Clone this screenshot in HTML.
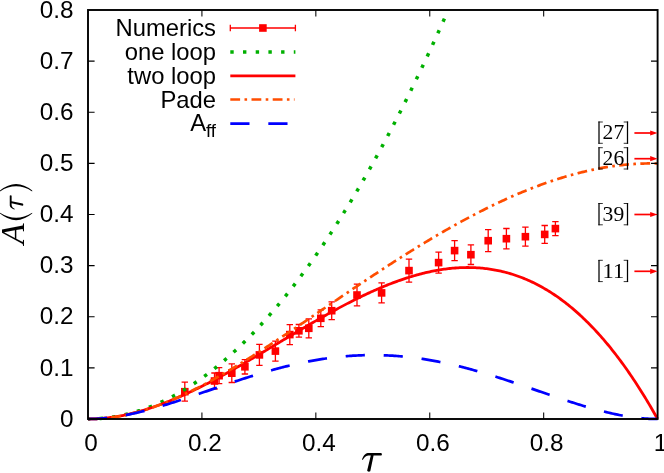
<!DOCTYPE html>
<html><head><meta charset="utf-8"><title>plot</title>
<style>
html,body{margin:0;padding:0;background:#fff;}
svg{display:block;will-change:transform;}
text{font-family:"Liberation Sans",sans-serif;fill:#000;}
.ser{font-family:"Liberation Serif",serif;}
</style></head><body>
<svg width="664" height="473" viewBox="0 0 664 473">
<rect width="664" height="473" fill="#fff"/>

<path d="M184.8 382.2V401.2M181.6 382.2h6.4M181.6 401.2h6.4" stroke="#f00" stroke-width="1.3" fill="none"/>
<rect x="181.0" y="387.9" width="7.6" height="7.6" fill="#f00"/>
<path d="M214.5 373.0V389.0M211.3 373.0h6.4M211.3 389.0h6.4" stroke="#f00" stroke-width="1.3" fill="none"/>
<rect x="210.7" y="377.2" width="7.6" height="7.6" fill="#f00"/>
<path d="M219.1 367.7V383.7M215.9 367.7h6.4M215.9 383.7h6.4" stroke="#f00" stroke-width="1.3" fill="none"/>
<rect x="215.3" y="371.9" width="7.6" height="7.6" fill="#f00"/>
<path d="M231.8 363.9V382.5M228.6 363.9h6.4M228.6 382.5h6.4" stroke="#f00" stroke-width="1.3" fill="none"/>
<rect x="228.0" y="369.4" width="7.6" height="7.6" fill="#f00"/>
<path d="M244.9 359.6V374.0M241.7 359.6h6.4M241.7 374.0h6.4" stroke="#f00" stroke-width="1.3" fill="none"/>
<rect x="241.1" y="363.0" width="7.6" height="7.6" fill="#f00"/>
<path d="M259.4 344.4V365.4M256.2 344.4h6.4M256.2 365.4h6.4" stroke="#f00" stroke-width="1.3" fill="none"/>
<rect x="255.6" y="351.1" width="7.6" height="7.6" fill="#f00"/>
<path d="M275.4 341.1V361.1M272.2 341.1h6.4M272.2 361.1h6.4" stroke="#f00" stroke-width="1.3" fill="none"/>
<rect x="271.6" y="347.3" width="7.6" height="7.6" fill="#f00"/>
<path d="M289.8 324.6V344.6M286.6 324.6h6.4M286.6 344.6h6.4" stroke="#f00" stroke-width="1.3" fill="none"/>
<rect x="286.0" y="330.8" width="7.6" height="7.6" fill="#f00"/>
<path d="M298.9 324.5V337.1M295.7 324.5h6.4M295.7 337.1h6.4" stroke="#f00" stroke-width="1.3" fill="none"/>
<rect x="295.1" y="327.0" width="7.6" height="7.6" fill="#f00"/>
<path d="M308.8 318.8V337.8M305.6 318.8h6.4M305.6 337.8h6.4" stroke="#f00" stroke-width="1.3" fill="none"/>
<rect x="305.0" y="324.5" width="7.6" height="7.6" fill="#f00"/>
<path d="M320.8 309.9V326.7M317.6 309.9h6.4M317.6 326.7h6.4" stroke="#f00" stroke-width="1.3" fill="none"/>
<rect x="317.0" y="314.5" width="7.6" height="7.6" fill="#f00"/>
<path d="M331.7 301.8V319.6M328.5 301.8h6.4M328.5 319.6h6.4" stroke="#f00" stroke-width="1.3" fill="none"/>
<rect x="327.9" y="306.9" width="7.6" height="7.6" fill="#f00"/>
<path d="M357.0 284.2V305.8M353.8 284.2h6.4M353.8 305.8h6.4" stroke="#f00" stroke-width="1.3" fill="none"/>
<rect x="353.2" y="291.2" width="7.6" height="7.6" fill="#f00"/>
<path d="M381.6 282.9V302.9M378.4 282.9h6.4M378.4 302.9h6.4" stroke="#f00" stroke-width="1.3" fill="none"/>
<rect x="377.8" y="289.1" width="7.6" height="7.6" fill="#f00"/>
<path d="M409.0 259.1V282.1M405.8 259.1h6.4M405.8 282.1h6.4" stroke="#f00" stroke-width="1.3" fill="none"/>
<rect x="405.2" y="266.8" width="7.6" height="7.6" fill="#f00"/>
<path d="M438.6 252.1V273.1M435.4 252.1h6.4M435.4 273.1h6.4" stroke="#f00" stroke-width="1.3" fill="none"/>
<rect x="434.8" y="258.8" width="7.6" height="7.6" fill="#f00"/>
<path d="M454.6 240.6V260.6M451.4 240.6h6.4M451.4 260.6h6.4" stroke="#f00" stroke-width="1.3" fill="none"/>
<rect x="450.8" y="246.8" width="7.6" height="7.6" fill="#f00"/>
<path d="M470.9 244.9V264.5M467.7 244.9h6.4M467.7 264.5h6.4" stroke="#f00" stroke-width="1.3" fill="none"/>
<rect x="467.1" y="250.9" width="7.6" height="7.6" fill="#f00"/>
<path d="M488.2 229.7V251.7M485.0 229.7h6.4M485.0 251.7h6.4" stroke="#f00" stroke-width="1.3" fill="none"/>
<rect x="484.4" y="236.9" width="7.6" height="7.6" fill="#f00"/>
<path d="M506.4 228.5V248.9M503.2 228.5h6.4M503.2 248.9h6.4" stroke="#f00" stroke-width="1.3" fill="none"/>
<rect x="502.6" y="234.9" width="7.6" height="7.6" fill="#f00"/>
<path d="M525.4 227.2V246.2M522.2 227.2h6.4M522.2 246.2h6.4" stroke="#f00" stroke-width="1.3" fill="none"/>
<rect x="521.6" y="232.9" width="7.6" height="7.6" fill="#f00"/>
<path d="M544.7 225.5V243.3M541.5 225.5h6.4M541.5 243.3h6.4" stroke="#f00" stroke-width="1.3" fill="none"/>
<rect x="540.9" y="230.6" width="7.6" height="7.6" fill="#f00"/>
<path d="M555.4 221.6V235.6M552.2 221.6h6.4M552.2 235.6h6.4" stroke="#f00" stroke-width="1.3" fill="none"/>
<rect x="551.6" y="224.8" width="7.6" height="7.6" fill="#f00"/>
<path d="M88.00 419.00 L89.80 418.99 L91.60 418.96 L93.40 418.91 L95.20 418.84 L96.99 418.75 L98.79 418.63 L100.59 418.50 L102.39 418.35 L104.19 418.17 L105.99 417.98 L107.79 417.77 L109.59 417.53 L111.39 417.28 L113.19 417.00 L114.98 416.71 L116.78 416.39 L118.58 416.05 L120.38 415.70 L122.18 415.32 L123.98 414.92 L125.78 414.50 L127.58 414.06 L129.38 413.60 L131.17 413.13 L132.97 412.63 L134.77 412.11 L136.57 411.56 L138.37 411.00 L140.17 410.42 L141.97 409.82 L143.77 409.20 L145.57 408.56 L147.36 407.89 L149.16 407.21 L150.96 406.51 L152.76 405.78 L154.56 405.04 L156.36 404.27 L158.16 403.49 L159.96 402.68 L161.76 401.86 L163.56 401.01 L165.35 400.14 L167.15 399.25 L168.95 398.35 L170.75 397.42 L172.55 396.47 L174.35 395.50 L176.15 394.51 L177.95 393.50 L179.75 392.47 L181.54 391.42 L183.34 390.35 L185.14 389.26 L186.94 388.15 L188.74 387.02 L190.54 385.86 L192.34 384.69 L194.14 383.50 L195.94 382.28 L197.74 381.05 L199.53 379.80 L201.33 378.52 L203.13 377.23 L204.93 375.91 L206.73 374.57 L208.53 373.22 L210.33 371.84 L212.13 370.44 L213.93 369.03 L215.72 367.59 L217.52 366.13 L219.32 364.65 L221.12 363.15 L222.92 361.63 L224.72 360.09 L226.52 358.53 L228.32 356.95 L230.12 355.35 L231.91 353.73 L233.71 352.08 L235.51 350.42 L237.31 348.74 L239.11 347.04 L240.91 345.31 L242.71 343.57 L244.51 341.80 L246.31 340.02 L248.11 338.21 L249.90 336.39 L251.70 334.54 L253.50 332.68 L255.30 330.79 L257.10 328.88 L258.90 326.95 L260.70 325.01 L262.50 323.04 L264.30 321.05 L266.09 319.04 L267.89 317.01 L269.69 314.96 L271.49 312.89 L273.29 310.80 L275.09 308.69 L276.89 306.56 L278.69 304.40 L280.49 302.23 L282.28 300.04 L284.08 297.83 L285.88 295.59 L287.68 293.34 L289.48 291.06 L291.28 288.77 L293.08 286.45 L294.88 284.12 L296.68 281.76 L298.48 279.39 L300.27 276.99 L302.07 274.57 L303.87 272.14 L305.67 269.68 L307.47 267.20 L309.27 264.70 L311.07 262.18 L312.87 259.64 L314.67 257.08 L316.46 254.50 L318.26 251.90 L320.06 249.28 L321.86 246.64 L323.66 243.98 L325.46 241.29 L327.26 238.59 L329.06 235.87 L330.86 233.12 L332.66 230.36 L334.45 227.58 L336.25 224.77 L338.05 221.95 L339.85 219.10 L341.65 216.24 L343.45 213.35 L345.25 210.44 L347.05 207.52 L348.85 204.57 L350.64 201.60 L352.44 198.61 L354.24 195.60 L356.04 192.57 L357.84 189.52 L359.64 186.45 L361.44 183.36 L363.24 180.25 L365.04 177.12 L366.83 173.97 L368.63 170.80 L370.43 167.61 L372.23 164.39 L374.03 161.16 L375.83 157.91 L377.63 154.63 L379.43 151.34 L381.23 148.02 L383.03 144.69 L384.82 141.33 L386.62 137.96 L388.42 134.56 L390.22 131.15 L392.02 127.71 L393.82 124.25 L395.62 120.77 L397.42 117.28 L399.22 113.76 L401.01 110.22 L402.81 106.66 L404.61 103.08 L406.41 99.48 L408.21 95.86 L410.01 92.22 L411.81 88.55 L413.61 84.87 L415.41 81.17 L417.21 77.45 L419.00 73.71 L420.80 69.94 L422.60 66.16 L424.40 62.35 L426.20 58.53 L428.00 54.68 L429.80 50.82 L431.60 46.93 L433.40 43.03 L435.19 39.10 L436.99 35.15 L438.79 31.19 L440.59 27.20 L442.39 23.19 L444.19 19.16 L445.99 15.11" fill="none" stroke="#00b000" stroke-width="3.5" stroke-dasharray="3.4 9.3" stroke-dashoffset="1.1"/>
<path d="M88.00 419.00 L89.42 418.99 L90.85 418.97 L92.27 418.94 L93.70 418.90 L95.12 418.84 L96.54 418.77 L97.97 418.69 L99.39 418.60 L100.82 418.49 L102.24 418.38 L103.66 418.25 L105.09 418.11 L106.51 417.96 L107.94 417.79 L109.36 417.62 L110.78 417.43 L112.21 417.23 L113.63 417.02 L115.06 416.80 L116.48 416.57 L117.90 416.33 L119.33 416.08 L120.75 415.81 L122.18 415.54 L123.60 415.26 L125.02 414.96 L126.45 414.66 L127.87 414.34 L129.30 414.02 L130.72 413.68 L132.14 413.33 L133.57 412.98 L134.99 412.61 L136.42 412.24 L137.84 411.86 L139.26 411.46 L140.69 411.06 L142.11 410.65 L143.54 410.23 L144.96 409.80 L146.38 409.36 L147.81 408.91 L149.23 408.45 L150.66 407.99 L152.08 407.51 L153.50 407.03 L154.93 406.54 L156.35 406.04 L157.78 405.54 L159.20 405.02 L160.62 404.50 L162.05 403.97 L163.47 403.43 L164.90 402.88 L166.32 402.33 L167.74 401.76 L169.17 401.20 L170.59 400.62 L172.02 400.04 L173.44 399.44 L174.86 398.85 L176.29 398.24 L177.71 397.63 L179.14 397.01 L180.56 396.39 L181.98 395.76 L183.41 395.12 L184.83 394.47 L186.26 393.82 L187.68 393.17 L189.10 392.50 L190.53 391.83 L191.95 391.16 L193.38 390.48 L194.80 389.79 L196.22 389.10 L197.65 388.40 L199.07 387.70 L200.50 386.99 L201.92 386.28 L203.34 385.56 L204.77 384.84 L206.19 384.11 L207.62 383.38 L209.04 382.64 L210.46 381.90 L211.89 381.15 L213.31 380.40 L214.74 379.64 L216.16 378.88 L217.58 378.12 L219.01 377.35 L220.43 376.58 L221.86 375.80 L223.28 375.02 L224.70 374.24 L226.13 373.45 L227.55 372.66 L228.98 371.87 L230.40 371.07 L231.82 370.27 L233.25 369.47 L234.67 368.66 L236.10 367.85 L237.52 367.04 L238.94 366.22 L240.37 365.41 L241.79 364.59 L243.22 363.76 L244.64 362.94 L246.06 362.11 L247.49 361.28 L248.91 360.45 L250.34 359.62 L251.76 358.78 L253.18 357.95 L254.61 357.11 L256.03 356.27 L257.46 355.43 L258.88 354.58 L260.30 353.74 L261.73 352.89 L263.15 352.05 L264.58 351.20 L266.00 350.35 L267.42 349.50 L268.85 348.65 L270.27 347.80 L271.70 346.95 L273.12 346.10 L274.54 345.25 L275.97 344.40 L277.39 343.54 L278.82 342.69 L280.24 341.84 L281.66 340.99 L283.09 340.14 L284.51 339.28 L285.94 338.43 L287.36 337.58 L288.78 336.73 L290.21 335.88 L291.63 335.04 L293.06 334.19 L294.48 333.34 L295.90 332.50 L297.33 331.65 L298.75 330.81 L300.18 329.97 L301.60 329.13 L303.02 328.29 L304.45 327.46 L305.87 326.62 L307.30 325.79 L308.72 324.96 L310.14 324.13 L311.57 323.31 L312.99 322.48 L314.42 321.66 L315.84 320.84 L317.26 320.02 L318.69 319.21 L320.11 318.40 L321.54 317.59 L322.96 316.78 L324.38 315.98 L325.81 315.18 L327.23 314.39 L328.66 313.59 L330.08 312.80 L331.50 312.02 L332.93 311.24 L334.35 310.46 L335.78 309.68 L337.20 308.91 L338.62 308.14 L340.05 307.38 L341.47 306.62 L342.90 305.87 L344.32 305.12 L345.74 304.37 L347.17 303.63 L348.59 302.90 L350.02 302.17 L351.44 301.44 L352.86 300.72 L354.29 300.00 L355.71 299.29 L357.14 298.58 L358.56 297.88 L359.98 297.19 L361.41 296.50 L362.83 295.81 L364.26 295.13 L365.68 294.46 L367.10 293.79 L368.53 293.13 L369.95 292.48 L371.38 291.83 L372.80 291.19 L374.22 290.55 L375.65 289.92 L377.07 289.30 L378.50 288.68 L379.92 288.07 L381.34 287.47 L382.77 286.88 L384.19 286.29 L385.62 285.71 L387.04 285.13 L388.46 284.57 L389.89 284.01 L391.31 283.45 L392.74 282.91 L394.16 282.37 L395.58 281.85 L397.01 281.33 L398.43 280.81 L399.86 280.31 L401.28 279.81 L402.70 279.32 L404.13 278.84 L405.55 278.37 L406.98 277.91 L408.40 277.46 L409.82 277.01 L411.25 276.58 L412.67 276.15 L414.10 275.73 L415.52 275.32 L416.94 274.92 L418.37 274.53 L419.79 274.15 L421.22 273.78 L422.64 273.42 L424.06 273.07 L425.49 272.73 L426.91 272.39 L428.34 272.07 L429.76 271.76 L431.18 271.46 L432.61 271.17 L434.03 270.89 L435.46 270.62 L436.88 270.36 L438.30 270.11 L439.73 269.87 L441.15 269.64 L442.58 269.43 L444.00 269.22 L445.42 269.03 L446.85 268.84 L448.27 268.67 L449.70 268.51 L451.12 268.36 L452.54 268.23 L453.97 268.10 L455.39 267.99 L456.82 267.89 L458.24 267.80 L459.66 267.72 L461.09 267.66 L462.51 267.60 L463.94 267.56 L465.36 267.54 L466.78 267.52 L468.21 267.52 L469.63 267.53 L471.06 267.55 L472.48 267.59 L473.90 267.64 L475.33 267.70 L476.75 267.78 L478.18 267.87 L479.60 267.97 L481.02 268.09 L482.45 268.22 L483.87 268.36 L485.30 268.52 L486.72 268.69 L488.14 268.88 L489.57 269.08 L490.99 269.29 L492.42 269.52 L493.84 269.76 L495.26 270.02 L496.69 270.29 L498.11 270.58 L499.54 270.88 L500.96 271.20 L502.38 271.53 L503.81 271.88 L505.23 272.24 L506.66 272.62 L508.08 273.01 L509.50 273.42 L510.93 273.84 L512.35 274.28 L513.78 274.74 L515.20 275.21 L516.62 275.70 L518.05 276.20 L519.47 276.72 L520.90 277.26 L522.32 277.81 L523.74 278.38 L525.17 278.96 L526.59 279.56 L528.02 280.18 L529.44 280.82 L530.86 281.47 L532.29 282.14 L533.71 282.83 L535.14 283.53 L536.56 284.25 L537.98 284.99 L539.41 285.75 L540.83 286.52 L542.26 287.31 L543.68 288.12 L545.10 288.95 L546.53 289.79 L547.95 290.65 L549.38 291.54 L550.80 292.44 L552.22 293.35 L553.65 294.29 L555.07 295.24 L556.50 296.22 L557.92 297.21 L559.34 298.22 L560.77 299.25 L562.19 300.30 L563.62 301.37 L565.04 302.46 L566.46 303.56 L567.89 304.69 L569.31 305.84 L570.74 307.00 L572.16 308.19 L573.58 309.39 L575.01 310.62 L576.43 311.86 L577.86 313.13 L579.28 314.41 L580.70 315.72 L582.13 317.04 L583.55 318.39 L584.98 319.76 L586.40 321.14 L587.82 322.55 L589.25 323.98 L590.67 325.43 L592.10 326.90 L593.52 328.39 L594.94 329.91 L596.37 331.44 L597.79 333.00 L599.22 334.58 L600.64 336.18 L602.06 337.80 L603.49 339.44 L604.91 341.11 L606.34 342.79 L607.76 344.50 L609.18 346.23 L610.61 347.99 L612.03 349.76 L613.46 351.56 L614.88 353.38 L616.30 355.23 L617.73 357.09 L619.15 358.98 L620.58 360.90 L622.00 362.83 L623.42 364.79 L624.85 366.77 L626.27 368.78 L627.70 370.81 L629.12 372.86 L630.54 374.94 L631.97 377.04 L633.39 379.16 L634.82 381.31 L636.24 383.48 L637.66 385.67 L639.09 387.89 L640.51 390.14 L641.94 392.41 L643.36 394.70 L644.78 397.02 L646.21 399.36 L647.63 401.73 L649.06 404.12 L650.48 406.54 L651.90 408.98 L653.33 411.45 L654.75 413.94 L656.18 416.46 L657.60 419.00" fill="none" stroke="#f00" stroke-width="2.8" stroke-linejoin="round"/>
<path d="M88.00 418.89 L89.42 418.90 L90.85 418.91 L92.27 418.90 L93.70 418.87 L95.12 418.84 L96.54 418.79 L97.97 418.72 L99.39 418.65 L100.82 418.56 L102.24 418.46 L103.66 418.34 L105.09 418.21 L106.51 418.07 L107.94 417.92 L109.36 417.75 L110.78 417.58 L112.21 417.39 L113.63 417.19 L115.06 416.97 L116.48 416.75 L117.90 416.51 L119.33 416.26 L120.75 416.00 L122.18 415.73 L123.60 415.45 L125.02 415.15 L126.45 414.85 L127.87 414.53 L129.30 414.21 L130.72 413.87 L132.14 413.52 L133.57 413.16 L134.99 412.79 L136.42 412.42 L137.84 412.03 L139.26 411.63 L140.69 411.22 L142.11 410.80 L143.54 410.37 L144.96 409.93 L146.38 409.48 L147.81 409.03 L149.23 408.56 L150.66 408.08 L152.08 407.60 L153.50 407.11 L154.93 406.60 L156.35 406.09 L157.78 405.57 L159.20 405.04 L160.62 404.50 L162.05 403.96 L163.47 403.40 L164.90 402.84 L166.32 402.27 L167.74 401.69 L169.17 401.10 L170.59 400.51 L172.02 399.91 L173.44 399.30 L174.86 398.68 L176.29 398.06 L177.71 397.42 L179.14 396.78 L180.56 396.14 L181.98 395.48 L183.41 394.82 L184.83 394.15 L186.26 393.48 L187.68 392.80 L189.10 392.11 L190.53 391.41 L191.95 390.71 L193.38 390.01 L194.80 389.29 L196.22 388.57 L197.65 387.85 L199.07 387.11 L200.50 386.38 L201.92 385.63 L203.34 384.88 L204.77 384.13 L206.19 383.37 L207.62 382.60 L209.04 381.83 L210.46 381.05 L211.89 380.27 L213.31 379.48 L214.74 378.69 L216.16 377.89 L217.58 377.09 L219.01 376.28 L220.43 375.47 L221.86 374.65 L223.28 373.83 L224.70 373.00 L226.13 372.17 L227.55 371.34 L228.98 370.50 L230.40 369.66 L231.82 368.81 L233.25 367.96 L234.67 367.10 L236.10 366.24 L237.52 365.38 L238.94 364.51 L240.37 363.64 L241.79 362.77 L243.22 361.89 L244.64 361.01 L246.06 360.12 L247.49 359.24 L248.91 358.34 L250.34 357.45 L251.76 356.55 L253.18 355.65 L254.61 354.75 L256.03 353.84 L257.46 352.93 L258.88 352.02 L260.30 351.11 L261.73 350.19 L263.15 349.27 L264.58 348.35 L266.00 347.43 L267.42 346.50 L268.85 345.57 L270.27 344.64 L271.70 343.71 L273.12 342.77 L274.54 341.83 L275.97 340.89 L277.39 339.95 L278.82 339.01 L280.24 338.07 L281.66 337.12 L283.09 336.17 L284.51 335.22 L285.94 334.27 L287.36 333.32 L288.78 332.36 L290.21 331.41 L291.63 330.45 L293.06 329.50 L294.48 328.54 L295.90 327.58 L297.33 326.62 L298.75 325.66 L300.18 324.69 L301.60 323.73 L303.02 322.77 L304.45 321.80 L305.87 320.84 L307.30 319.87 L308.72 318.90 L310.14 317.94 L311.57 316.97 L312.99 316.00 L314.42 315.03 L315.84 314.06 L317.26 313.09 L318.69 312.13 L320.11 311.16 L321.54 310.19 L322.96 309.22 L324.38 308.25 L325.81 307.28 L327.23 306.31 L328.66 305.34 L330.08 304.37 L331.50 303.40 L332.93 302.44 L334.35 301.47 L335.78 300.50 L337.20 299.53 L338.62 298.57 L340.05 297.60 L341.47 296.64 L342.90 295.67 L344.32 294.71 L345.74 293.75 L347.17 292.78 L348.59 291.82 L350.02 290.86 L351.44 289.90 L352.86 288.94 L354.29 287.98 L355.71 287.03 L357.14 286.07 L358.56 285.12 L359.98 284.16 L361.41 283.21 L362.83 282.26 L364.26 281.31 L365.68 280.36 L367.10 279.41 L368.53 278.47 L369.95 277.52 L371.38 276.58 L372.80 275.64 L374.22 274.70 L375.65 273.76 L377.07 272.82 L378.50 271.89 L379.92 270.95 L381.34 270.02 L382.77 269.09 L384.19 268.16 L385.62 267.24 L387.04 266.31 L388.46 265.39 L389.89 264.47 L391.31 263.55 L392.74 262.63 L394.16 261.72 L395.58 260.81 L397.01 259.90 L398.43 258.99 L399.86 258.08 L401.28 257.18 L402.70 256.28 L404.13 255.38 L405.55 254.48 L406.98 253.59 L408.40 252.69 L409.82 251.80 L411.25 250.92 L412.67 250.03 L414.10 249.15 L415.52 248.27 L416.94 247.39 L418.37 246.52 L419.79 245.65 L421.22 244.78 L422.64 243.91 L424.06 243.05 L425.49 242.19 L426.91 241.33 L428.34 240.47 L429.76 239.62 L431.18 238.77 L432.61 237.93 L434.03 237.08 L435.46 236.24 L436.88 235.41 L438.30 234.57 L439.73 233.74 L441.15 232.92 L442.58 232.09 L444.00 231.27 L445.42 230.45 L446.85 229.64 L448.27 228.83 L449.70 228.02 L451.12 227.21 L452.54 226.41 L453.97 225.62 L455.39 224.82 L456.82 224.03 L458.24 223.25 L459.66 222.46 L461.09 221.68 L462.51 220.91 L463.94 220.14 L465.36 219.37 L466.78 218.60 L468.21 217.84 L469.63 217.08 L471.06 216.33 L472.48 215.58 L473.90 214.84 L475.33 214.10 L476.75 213.36 L478.18 212.62 L479.60 211.90 L481.02 211.17 L482.45 210.45 L483.87 209.73 L485.30 209.02 L486.72 208.31 L488.14 207.61 L489.57 206.91 L490.99 206.21 L492.42 205.52 L493.84 204.83 L495.26 204.15 L496.69 203.47 L498.11 202.80 L499.54 202.13 L500.96 201.47 L502.38 200.81 L503.81 200.15 L505.23 199.50 L506.66 198.85 L508.08 198.21 L509.50 197.58 L510.93 196.94 L512.35 196.32 L513.78 195.69 L515.20 195.08 L516.62 194.47 L518.05 193.86 L519.47 193.26 L520.90 192.66 L522.32 192.07 L523.74 191.48 L525.17 190.90 L526.59 190.32 L528.02 189.75 L529.44 189.18 L530.86 188.62 L532.29 188.06 L533.71 187.51 L535.14 186.97 L536.56 186.43 L537.98 185.89 L539.41 185.36 L540.83 184.84 L542.26 184.32 L543.68 183.81 L545.10 183.30 L546.53 182.80 L547.95 182.30 L549.38 181.81 L550.80 181.32 L552.22 180.85 L553.65 180.37 L555.07 179.90 L556.50 179.44 L557.92 178.99 L559.34 178.54 L560.77 178.09 L562.19 177.65 L563.62 177.22 L565.04 176.80 L566.46 176.37 L567.89 175.96 L569.31 175.55 L570.74 175.15 L572.16 174.76 L573.58 174.37 L575.01 173.98 L576.43 173.61 L577.86 173.23 L579.28 172.87 L580.70 172.51 L582.13 172.16 L583.55 171.82 L584.98 171.48 L586.40 171.14 L587.82 170.82 L589.25 170.50 L590.67 170.19 L592.10 169.88 L593.52 169.58 L594.94 169.29 L596.37 169.00 L597.79 168.72 L599.22 168.45 L600.64 168.19 L602.06 167.93 L603.49 167.68 L604.91 167.43 L606.34 167.19 L607.76 166.96 L609.18 166.74 L610.61 166.52 L612.03 166.31 L613.46 166.11 L614.88 165.92 L616.30 165.73 L617.73 165.55 L619.15 165.37 L620.58 165.21 L622.00 165.05 L623.42 164.89 L624.85 164.75 L626.27 164.61 L627.70 164.48 L629.12 164.36 L630.54 164.25 L631.97 164.14 L633.39 164.04 L634.82 163.95 L636.24 163.86 L637.66 163.79 L639.09 163.72 L640.51 163.66 L641.94 163.61 L643.36 163.56 L644.78 163.52 L646.21 163.49 L647.63 163.47 L649.06 163.46 L650.48 163.45 L651.90 163.45 L653.33 163.46 L654.75 163.48 L656.18 163.51 L657.60 163.54" fill="none" stroke="#ff4d00" stroke-width="2.7" stroke-dasharray="9.8 4.4 2.6 4.4" stroke-dashoffset="19.2"/>
<path d="M88.00 419.00 L89.42 418.99 L90.85 418.97 L92.27 418.94 L93.70 418.90 L95.12 418.84 L96.54 418.78 L97.97 418.70 L99.39 418.61 L100.82 418.51 L102.24 418.39 L103.66 418.27 L105.09 418.13 L106.51 417.99 L107.94 417.83 L109.36 417.67 L110.78 417.49 L112.21 417.31 L113.63 417.11 L115.06 416.91 L116.48 416.69 L117.90 416.47 L119.33 416.24 L120.75 416.00 L122.18 415.75 L123.60 415.49 L125.02 415.22 L126.45 414.95 L127.87 414.67 L129.30 414.38 L130.72 414.08 L132.14 413.77 L133.57 413.46 L134.99 413.14 L136.42 412.81 L137.84 412.48 L139.26 412.14 L140.69 411.79 L142.11 411.44 L143.54 411.08 L144.96 410.72 L146.38 410.35 L147.81 409.97 L149.23 409.59 L150.66 409.20 L152.08 408.81 L153.50 408.41 L154.93 408.01 L156.35 407.60 L157.78 407.19 L159.20 406.77 L160.62 406.35 L162.05 405.92 L163.47 405.49 L164.90 405.06 L166.32 404.62 L167.74 404.18 L169.17 403.73 L170.59 403.28 L172.02 402.83 L173.44 402.38 L174.86 401.92 L176.29 401.46 L177.71 401.00 L179.14 400.53 L180.56 400.06 L181.98 399.59 L183.41 399.12 L184.83 398.64 L186.26 398.17 L187.68 397.69 L189.10 397.21 L190.53 396.72 L191.95 396.24 L193.38 395.76 L194.80 395.27 L196.22 394.78 L197.65 394.29 L199.07 393.80 L200.50 393.31 L201.92 392.82 L203.34 392.33 L204.77 391.84 L206.19 391.35 L207.62 390.86 L209.04 390.37 L210.46 389.87 L211.89 389.38 L213.31 388.89 L214.74 388.40 L216.16 387.91 L217.58 387.42 L219.01 386.93 L220.43 386.44 L221.86 385.95 L223.28 385.47 L224.70 384.98 L226.13 384.50 L227.55 384.01 L228.98 383.53 L230.40 383.05 L231.82 382.57 L233.25 382.10 L234.67 381.62 L236.10 381.15 L237.52 380.68 L238.94 380.21 L240.37 379.74 L241.79 379.28 L243.22 378.82 L244.64 378.36 L246.06 377.90 L247.49 377.44 L248.91 376.99 L250.34 376.54 L251.76 376.09 L253.18 375.65 L254.61 375.21 L256.03 374.77 L257.46 374.34 L258.88 373.91 L260.30 373.48 L261.73 373.06 L263.15 372.63 L264.58 372.22 L266.00 371.80 L267.42 371.39 L268.85 370.99 L270.27 370.58 L271.70 370.19 L273.12 369.79 L274.54 369.40 L275.97 369.01 L277.39 368.63 L278.82 368.25 L280.24 367.88 L281.66 367.51 L283.09 367.15 L284.51 366.79 L285.94 366.43 L287.36 366.08 L288.78 365.73 L290.21 365.39 L291.63 365.05 L293.06 364.72 L294.48 364.39 L295.90 364.07 L297.33 363.75 L298.75 363.44 L300.18 363.13 L301.60 362.83 L303.02 362.54 L304.45 362.24 L305.87 361.96 L307.30 361.68 L308.72 361.40 L310.14 361.13 L311.57 360.87 L312.99 360.61 L314.42 360.35 L315.84 360.10 L317.26 359.86 L318.69 359.62 L320.11 359.39 L321.54 359.17 L322.96 358.95 L324.38 358.73 L325.81 358.53 L327.23 358.32 L328.66 358.13 L330.08 357.94 L331.50 357.75 L332.93 357.57 L334.35 357.40 L335.78 357.24 L337.20 357.08 L338.62 356.92 L340.05 356.77 L341.47 356.63 L342.90 356.50 L344.32 356.37 L345.74 356.24 L347.17 356.12 L348.59 356.01 L350.02 355.91 L351.44 355.81 L352.86 355.72 L354.29 355.63 L355.71 355.55 L357.14 355.48 L358.56 355.41 L359.98 355.35 L361.41 355.30 L362.83 355.25 L364.26 355.21 L365.68 355.17 L367.10 355.14 L368.53 355.12 L369.95 355.11 L371.38 355.10 L372.80 355.09 L374.22 355.10 L375.65 355.11 L377.07 355.12 L378.50 355.14 L379.92 355.17 L381.34 355.21 L382.77 355.25 L384.19 355.30 L385.62 355.35 L387.04 355.41 L388.46 355.48 L389.89 355.55 L391.31 355.63 L392.74 355.72 L394.16 355.81 L395.58 355.91 L397.01 356.01 L398.43 356.12 L399.86 356.24 L401.28 356.37 L402.70 356.50 L404.13 356.63 L405.55 356.77 L406.98 356.92 L408.40 357.08 L409.82 357.24 L411.25 357.40 L412.67 357.57 L414.10 357.75 L415.52 357.94 L416.94 358.13 L418.37 358.32 L419.79 358.53 L421.22 358.73 L422.64 358.95 L424.06 359.17 L425.49 359.39 L426.91 359.62 L428.34 359.86 L429.76 360.10 L431.18 360.35 L432.61 360.61 L434.03 360.87 L435.46 361.13 L436.88 361.40 L438.30 361.68 L439.73 361.96 L441.15 362.24 L442.58 362.54 L444.00 362.83 L445.42 363.13 L446.85 363.44 L448.27 363.75 L449.70 364.07 L451.12 364.39 L452.54 364.72 L453.97 365.05 L455.39 365.39 L456.82 365.73 L458.24 366.08 L459.66 366.43 L461.09 366.79 L462.51 367.15 L463.94 367.51 L465.36 367.88 L466.78 368.25 L468.21 368.63 L469.63 369.01 L471.06 369.40 L472.48 369.79 L473.90 370.19 L475.33 370.58 L476.75 370.99 L478.18 371.39 L479.60 371.80 L481.02 372.22 L482.45 372.63 L483.87 373.06 L485.30 373.48 L486.72 373.91 L488.14 374.34 L489.57 374.77 L490.99 375.21 L492.42 375.65 L493.84 376.09 L495.26 376.54 L496.69 376.99 L498.11 377.44 L499.54 377.90 L500.96 378.36 L502.38 378.82 L503.81 379.28 L505.23 379.74 L506.66 380.21 L508.08 380.68 L509.50 381.15 L510.93 381.62 L512.35 382.10 L513.78 382.57 L515.20 383.05 L516.62 383.53 L518.05 384.01 L519.47 384.50 L520.90 384.98 L522.32 385.47 L523.74 385.95 L525.17 386.44 L526.59 386.93 L528.02 387.42 L529.44 387.91 L530.86 388.40 L532.29 388.89 L533.71 389.38 L535.14 389.87 L536.56 390.37 L537.98 390.86 L539.41 391.35 L540.83 391.84 L542.26 392.33 L543.68 392.82 L545.10 393.31 L546.53 393.80 L547.95 394.29 L549.38 394.78 L550.80 395.27 L552.22 395.76 L553.65 396.24 L555.07 396.72 L556.50 397.21 L557.92 397.69 L559.34 398.17 L560.77 398.64 L562.19 399.12 L563.62 399.59 L565.04 400.06 L566.46 400.53 L567.89 401.00 L569.31 401.46 L570.74 401.92 L572.16 402.38 L573.58 402.83 L575.01 403.28 L576.43 403.73 L577.86 404.18 L579.28 404.62 L580.70 405.06 L582.13 405.49 L583.55 405.92 L584.98 406.35 L586.40 406.77 L587.82 407.19 L589.25 407.60 L590.67 408.01 L592.10 408.41 L593.52 408.81 L594.94 409.20 L596.37 409.59 L597.79 409.97 L599.22 410.35 L600.64 410.72 L602.06 411.08 L603.49 411.44 L604.91 411.79 L606.34 412.14 L607.76 412.48 L609.18 412.81 L610.61 413.14 L612.03 413.46 L613.46 413.77 L614.88 414.08 L616.30 414.38 L617.73 414.67 L619.15 414.95 L620.58 415.22 L622.00 415.49 L623.42 415.75 L624.85 416.00 L626.27 416.24 L627.70 416.47 L629.12 416.69 L630.54 416.91 L631.97 417.11 L633.39 417.31 L634.82 417.49 L636.24 417.67 L637.66 417.83 L639.09 417.99 L640.51 418.13 L641.94 418.27 L643.36 418.39 L644.78 418.51 L646.21 418.61 L647.63 418.70 L649.06 418.78 L650.48 418.84 L651.90 418.90 L653.33 418.94 L654.75 418.97 L656.18 418.99 L657.60 419.00" fill="none" stroke="#00f" stroke-width="2.7" stroke-dasharray="19.2 18.83"/>
<rect x="88.0" y="10.0" width="569.6" height="409.0" fill="none" stroke="#000" stroke-width="1.9"/>
<path d="M88.0 367.88h6.6M657.6 367.88h-6.6M88.0 316.75h6.6M657.6 316.75h-6.6M88.0 265.62h6.6M657.6 265.62h-6.6M88.0 214.50h6.6M657.6 214.50h-6.6M88.0 163.38h6.6M657.6 163.38h-6.6M88.0 112.25h6.6M657.6 112.25h-6.6M88.0 61.13h6.6M657.6 61.13h-6.6M201.92 419.0v-6.6M201.92 10.0v6.6M315.84 419.0v-6.6M315.84 10.0v6.6M429.76 419.0v-6.6M429.76 10.0v6.6M543.68 419.0v-6.6M543.68 10.0v6.6" stroke="#000" stroke-width="1.05" fill="none"/>
<text x="73.5" y="426.7" font-size="24.3" text-anchor="end">0</text>
<text x="73.5" y="375.6" font-size="24.3" text-anchor="end">0.1</text>
<text x="73.5" y="324.4" font-size="24.3" text-anchor="end">0.2</text>
<text x="73.5" y="273.3" font-size="24.3" text-anchor="end">0.3</text>
<text x="73.5" y="222.2" font-size="24.3" text-anchor="end">0.4</text>
<text x="73.5" y="171.1" font-size="24.3" text-anchor="end">0.5</text>
<text x="73.5" y="120.0" font-size="24.3" text-anchor="end">0.6</text>
<text x="73.5" y="68.8" font-size="24.3" text-anchor="end">0.7</text>
<text x="73.5" y="17.7" font-size="24.3" text-anchor="end">0.8</text>
<text x="91.0" y="451.3" font-size="24.3" text-anchor="middle">0</text>
<text x="204.9" y="451.3" font-size="24.3" text-anchor="middle">0.2</text>
<text x="318.8" y="451.3" font-size="24.3" text-anchor="middle">0.4</text>
<text x="432.8" y="451.3" font-size="24.3" text-anchor="middle">0.6</text>
<text x="546.7" y="451.3" font-size="24.3" text-anchor="middle">0.8</text>
<text x="660.6" y="451.3" font-size="24.3" text-anchor="middle">1</text>
<text x="216" y="36.0" font-size="23.8" text-anchor="end">Numerics</text>
<text x="216" y="59.7" font-size="23.8" text-anchor="end">one loop</text>
<text x="216" y="83.8" font-size="23.8" text-anchor="end">two loop</text>
<text x="216" y="107.5" font-size="23.8" text-anchor="end">Pade</text>
<text x="216" y="130.9" font-size="23.8" text-anchor="end">A<tspan font-size="18.6" dy="6">ff</tspan></text>
<path d="M230.3 28H295.4M230.3 24.8v6.4M295.4 24.8v6.4" stroke="#f00" stroke-width="1.3" fill="none"/>
<rect x="259.1" y="24.2" width="7.6" height="7.6" fill="#f00"/>
<path d="M230.3 52.0H295.4" stroke="#00b000" stroke-width="3.5" stroke-dasharray="3.4 9.3"/>
<path d="M230.3 75.8H295.4" stroke="#f00" stroke-width="2.8"/>
<path d="M230.3 99.5H294.5" stroke="#ff4d00" stroke-width="2.7" stroke-dasharray="9.8 4.4 2.6 4.4"/>
<path d="M230.3 123.6H295.4" stroke="#00f" stroke-width="2.7" stroke-dasharray="19.2 18.83"/>
<path d="M172 280C185 240 215 188 255 185L445 185C462 185 462 222 445 222L338 222L292 440C288 458 250 458 246 438L298 222L262 222C225 224 200 255 182 286Z" transform="translate(350,440) scale(0.06978)" fill="#000"/>
<g transform="translate(24.6,246) rotate(-90)">
<text class="ser" font-style="italic" font-size="34" x="1.80" y="-0.3">A</text>
<path d="M32.40 -24.60Q19.30 -8.50 32.40 7.60L33.20 7.60Q23.10 -8.50 33.20 -24.60Z" fill="#000"/>
<path d="M55.40 -24.60Q68.50 -8.50 55.40 7.60L54.60 7.60Q64.70 -8.50 54.60 -24.60Z" fill="#000"/>
<path d="M172 280C185 240 215 188 255 185L445 185C462 185 462 222 445 222L338 222L292 440C288 458 250 458 246 438L298 222L262 222C225 224 200 255 182 286Z" transform="translate(27.71,-24.19) scale(0.05052)" fill="#000"/>
</g>
<text class="ser" font-size="21.6" x="602.6" y="139.2" textLength="21.6" lengthAdjust="spacingAndGlyphs">27</text>
<path d="M602.8 122.0H598.4M602.8 143.3H598.4M623.7 122.0H628.1M623.7 143.3H628.1" fill="none" stroke="#000" stroke-width="0.8"/>
<path d="M599 121.6V143.7M627.5 121.6V143.7" fill="none" stroke="#000" stroke-width="1.25"/>
<path d="M634.4 133.0H652" stroke="#f00" stroke-width="1.7"/><path d="M657.6 133.0l-7.4 -2.6v5.2z" fill="#f00"/>
<text class="ser" font-size="21.6" x="602.6" y="164.9" textLength="21.6" lengthAdjust="spacingAndGlyphs">26</text>
<path d="M602.8 147.7H598.4M602.8 169.0H598.4M623.7 147.7H628.1M623.7 169.0H628.1" fill="none" stroke="#000" stroke-width="0.8"/>
<path d="M599 147.3V169.4M627.5 147.3V169.4" fill="none" stroke="#000" stroke-width="1.25"/>
<path d="M634.4 158.7H652" stroke="#f00" stroke-width="1.7"/><path d="M657.6 158.7l-7.4 -2.6v5.2z" fill="#f00"/>
<text class="ser" font-size="21.6" x="602.6" y="220.7" textLength="21.6" lengthAdjust="spacingAndGlyphs">39</text>
<path d="M602.8 203.5H598.4M602.8 224.8H598.4M623.7 203.5H628.1M623.7 224.8H628.1" fill="none" stroke="#000" stroke-width="0.8"/>
<path d="M599 203.1V225.2M627.5 203.1V225.2" fill="none" stroke="#000" stroke-width="1.25"/>
<path d="M634.4 214.5H652" stroke="#f00" stroke-width="1.7"/><path d="M657.6 214.5l-7.4 -2.6v5.2z" fill="#f00"/>
<text class="ser" font-size="21.6" x="602.6" y="277.5" textLength="21.6" lengthAdjust="spacingAndGlyphs">11</text>
<path d="M602.8 260.3H598.4M602.8 281.6H598.4M623.7 260.3H628.1M623.7 281.6H628.1" fill="none" stroke="#000" stroke-width="0.8"/>
<path d="M599 259.9V282.0M627.5 259.9V282.0" fill="none" stroke="#000" stroke-width="1.25"/>
<path d="M634.4 271.3H652" stroke="#f00" stroke-width="1.7"/><path d="M657.6 271.3l-7.4 -2.6v5.2z" fill="#f00"/>
</svg></body></html>
